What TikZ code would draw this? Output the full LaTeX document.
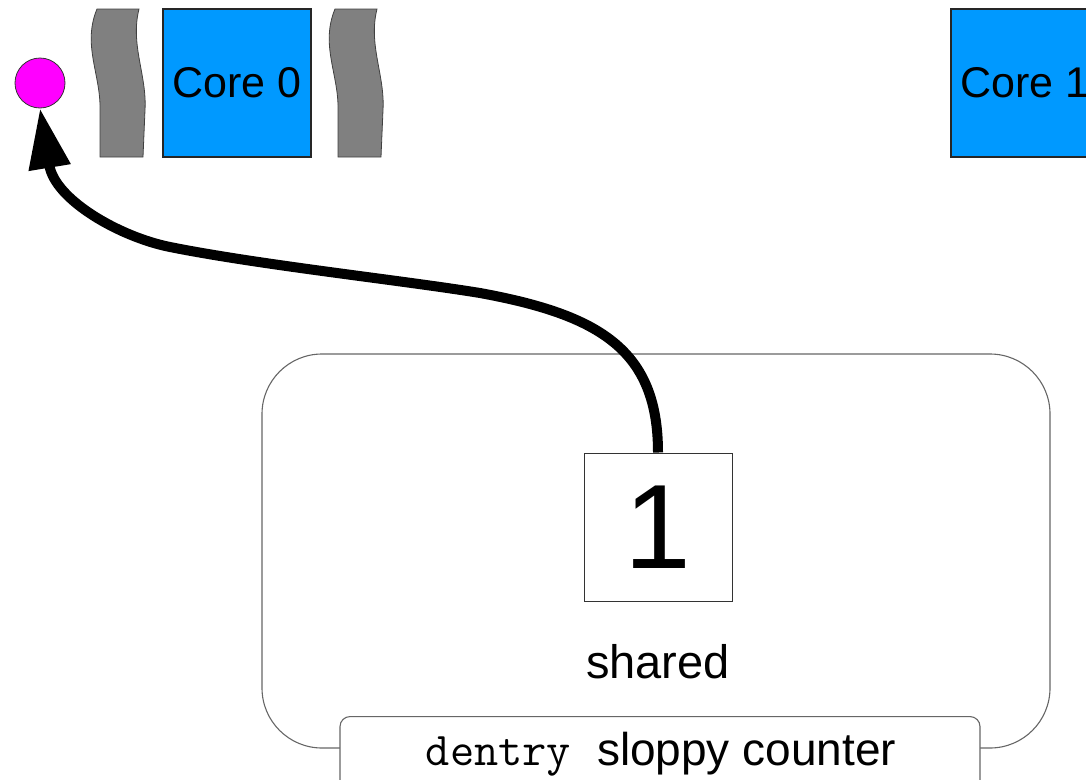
\documentclass[tikz,border=0pt]{standalone}
\usepackage{fontspec}
\setmainfont{Liberation Sans}
\usetikzlibrary{arrows.meta}
\definecolor{coreblue}{RGB}{0,153,255}
\definecolor{wavegray}{RGB}{128,128,128}
\definecolor{dotmagenta}{RGB}{255,0,255}
\tikzset{
  corebox/.style={draw=black!85, line width=1.2pt, fill=coreblue, minimum width=148pt, minimum height=148pt, inner sep=0pt, font=\fontsize{43}{50}\selectfont},
  wave/.style={fill=wavegray, draw=black!75, line width=0.8pt},
  plainbox/.style={draw=black!80, line width=1pt, fill=white, minimum width=148pt, minimum height=148pt, inner sep=0pt},
  outline/.style={draw=black!60, line width=1.1pt, rounded corners=60pt, minimum width=788pt, minimum height=394pt, inner sep=0pt},
  tagbox/.style={draw=black!60, line width=1.1pt, fill=white, rounded corners=10pt, minimum width=640pt, minimum height=100pt, inner sep=0pt},
  bigarrow/.style={line width=10pt, -{Triangle[length=60pt,width=40pt]}},
}
\newcommand\mywaveshape{%
  \path[wave] (97,9) -- (139,9) .. controls (130,45) and (147,75) .. (145,110)
    -- (143,157) -- (100,157) -- (100,110) .. controls (101,75) and (82,45) .. (97,9) -- cycle;%
}
\begin{document}
\begin{tikzpicture}[x=1pt,y=-1pt]
\useasboundingbox (0,0) rectangle (1086,779);
\clip (0,0) rectangle (1086,779);

% top row
\node[circle, draw=black!80, line width=0.8pt, fill=dotmagenta, minimum size=50pt, inner sep=0pt] (dot) at (40,83) {};
\mywaveshape
\begin{scope}[xshift=238pt]
\mywaveshape
\end{scope}
\node[corebox] (core0) at (237,83) {Core 0};
\node[corebox] (core1) at (1025,83) {Core 1};

% counter
\node[outline] (counter) at (656,551) {};
\node[tagbox, anchor=north] (tag) at (660,716) {};
\node[anchor=base, inner sep=0pt] (tagtext) at (661,765)
  {{\fontsize{47}{56}\selectfont\ttfamily dentry}\hspace{26pt}{\fontsize{46}{56}\selectfont sloppy counter}};
\node[plainbox, font=\fontsize{120}{130}\selectfont] (one) at (658,527) {1};
\node[inner sep=0pt, font=\fontsize{47}{56}\selectfont] (shared) at (658,662) {shared};

% arrow
\draw[bigarrow] (one.north) .. controls (658,350) and (600,315) .. (480,293)
  .. controls (400,280) and (260,265) .. (170,247)
  .. controls (120,237) and (55,200) .. (dot.south);
\end{tikzpicture}
\end{document}
